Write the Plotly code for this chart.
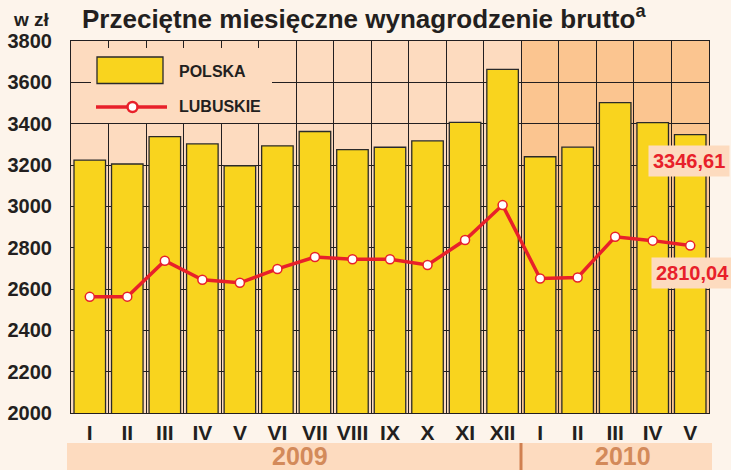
import plotly.graph_objects as go

months = ["I", "II", "III", "IV", "V", "VI", "VII", "VIII", "IX", "X", "XI", "XII",
          "I", "II", "III", "IV", "V"]
polska = [3223.44, 3204.93, 3337.38, 3301.97, 3196.39, 3292.94, 3362.21, 3274.11,
          3285.90, 3316.60, 3406.35, 3662.81, 3239.96, 3286.44, 3501.50, 3404.63, 3346.61]
lubuskie = [2562, 2563, 2737, 2645, 2630, 2697, 2755, 2744, 2744, 2716, 2837, 3006,
            2651, 2656, 2853, 2834, 2810.04]
years = ["2009", "2010"]
y_ticks = [2000, 2200, 2400, 2600, 2800, 3000, 3200, 3400, 3600, 3800]

W, H = 731, 470
ML, MR, MT, MB = 71, 22, 41, 57
PW, PH = W - ML - MR, H - MT - MB

def px(x):
    return (x - ML) / PW

def py(y):
    return (H - MB - y) / PH

DARK = "#231f20"
YELLOW = "#F9D41E"
RED = "#E8202A"
BG2009 = "#FDDBBF"
BG2010 = "#FBC590"
PAGE = "#FDF4EB"
BAND_TXT = "#D38A5A"
SANS = "Liberation Sans, Arial"
NARROW = "Liberation Sans Narrow, Liberation Sans, Arial"

xs = list(range(len(months)))

fig = go.Figure()
fig.add_trace(go.Bar(x=xs, y=polska, width=0.84, marker=dict(color=YELLOW, line=dict(color="#2a2a2a", width=1.3)),
                     name="POLSKA", showlegend=False))
fig.add_trace(go.Scatter(x=xs, y=lubuskie, mode="lines+markers", name="LUBUSKIE", showlegend=False,
                         line=dict(color=RED, width=3.5),
                         marker=dict(size=9, color="white", line=dict(color=RED, width=1.5))))

shapes = []
shapes.append(dict(type="rect", xref="x", yref="paper", x0=11.5, x1=16.5, y0=0, y1=1,
                   fillcolor=BG2010, line=dict(width=0), layer="below"))
shapes.append(dict(type="rect", xref="paper", yref="paper", x0=px(91), x1=px(272), y0=py(123), y1=py(48),
                   fillcolor=BG2009, line=dict(width=0), layer="above"))
shapes.append(dict(type="rect", xref="paper", yref="paper", x0=px(97), x1=px(163), y0=py(83.5), y1=py(57),
                   fillcolor=YELLOW, line=dict(color="#2a2a2a", width=1.3), layer="above"))
shapes.append(dict(type="line", xref="paper", yref="paper", x0=px(96), x1=px(167), y0=py(107), y1=py(107),
                   line=dict(color=RED, width=3.5), layer="above"))
shapes.append(dict(type="circle", xref="paper", yref="paper", x0=px(127.5), x1=px(137.5), y0=py(112), y1=py(102),
                   fillcolor="white", line=dict(color=RED, width=2.5), layer="above"))
shapes.append(dict(type="rect", xref="paper", yref="paper", x0=px(67), x1=px(712), y0=py(470), y1=py(443),
                   fillcolor=BG2009, line=dict(width=0), layer="below"))
shapes.append(dict(type="line", xref="paper", yref="paper", x0=px(521), x1=px(521), y0=py(470), y1=py(443),
                   line=dict(color="#D08050", width=3)))

annotations = [
    dict(text="POLSKA", xref="paper", yref="paper", x=px(177), y=py(71), xanchor="left", yanchor="middle",
         showarrow=False, font=dict(family=SANS, size=16, color=DARK, weight="bold")),
    dict(text="LUBUSKIE", xref="paper", yref="paper", x=px(177), y=py(107), xanchor="left", yanchor="middle",
         showarrow=False, font=dict(family=SANS, size=16, color=DARK, weight="bold")),
    dict(text="w zł", xref="paper", yref="paper", x=px(31), y=py(19), xanchor="center", yanchor="middle",
         showarrow=False, font=dict(family=SANS, size=19, color=DARK, weight="bold")),
    dict(text=years[0], xref="paper", yref="paper", x=px(300), y=py(456), xanchor="center", yanchor="middle",
         showarrow=False, font=dict(family=NARROW, size=25, color=BAND_TXT, weight="bold")),
    dict(text=years[1], xref="paper", yref="paper", x=px(623), y=py(456), xanchor="center", yanchor="middle",
         showarrow=False, font=dict(family=NARROW, size=25, color=BAND_TXT, weight="bold")),
    dict(text=f"{polska[-1]:.2f}".replace(".", ","), x=xs[-1], y=polska[-1], xref="x", yref="y",
         yshift=-26, xshift=-1, showarrow=False, bgcolor=BG2009, borderpad=4,
         font=dict(family=SANS, size=20, color=RED, weight="bold")),
    dict(text=f"{lubuskie[-1]:.2f}".replace(".", ","), x=xs[-1], y=lubuskie[-1], xref="x", yref="y",
         yshift=-27, xshift=2, showarrow=False, bgcolor=BG2009, borderpad=4,
         font=dict(family=SANS, size=20, color=RED, weight="bold")),
]

fig.update_layout(
    width=W, height=H,
    margin=dict(l=ML, r=MR, t=MT, b=MB, autoexpand=False),
    paper_bgcolor=PAGE, plot_bgcolor=BG2009,
    bargap=0.16,
    title=dict(text="Przeciętne miesięczne wynagrodzenie brutto<sup>a</sup>",
               x=82 / W, xanchor="left", y=1 - 19 / H, yanchor="middle",
               font=dict(family=SANS, size=26, color=DARK, weight="bold")),
    xaxis=dict(range=[-0.5, 16.5], tickmode="array", tickvals=xs, ticktext=months, automargin=False,
               showgrid=False, zeroline=False, showline=True, mirror=True, linecolor=DARK, linewidth=1,
               ticks="", ticklabelstandoff=1,
               tickfont=dict(family=NARROW, size=21, color=DARK, weight="bold"),
               minor=dict(tick0=0.5, dtick=1, showgrid=True, gridcolor=DARK, gridwidth=1, ticks="")),
    yaxis=dict(range=[2000, 3800], tickmode="array", tickvals=y_ticks, automargin=False,
               showgrid=True, gridcolor=DARK, gridwidth=1, zeroline=False,
               showline=True, mirror=True, linecolor=DARK, linewidth=1,
               ticks="", ticklabelstandoff=14,
               tickfont=dict(family=SANS, size=20, color=DARK, weight="bold")),
    shapes=shapes, annotations=annotations,
)

fig.write_html("out.html", config={"displayModeBar": False},
               post_script="document.body.style.margin='0';document.body.style.background='#FDF4EB';")
